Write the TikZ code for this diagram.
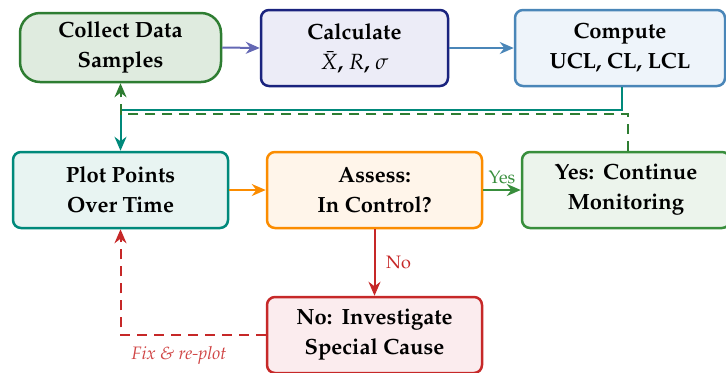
\documentclass[tikz,border=0pt]{standalone}
\usepackage[T1]{fontenc}
\usepackage{mathpazo}
\usetikzlibrary{arrows.meta,positioning}

\definecolor{cgreen}{HTML}{2E7D32}
\definecolor{cgreenfill}{HTML}{DFEBDF}
\definecolor{cnavy}{HTML}{1A237E}
\definecolor{cnavyfill}{HTML}{ECECF7}
\definecolor{cnavyarrow}{HTML}{6468B4}
\definecolor{csteel}{HTML}{4A86B8}
\definecolor{csteelfill}{HTML}{EEF4FA}
\definecolor{cteal}{HTML}{00897B}
\definecolor{ctealfill}{HTML}{E8F4F2}
\definecolor{corange}{HTML}{FB8C00}
\definecolor{corangefill}{HTML}{FFF5EA}
\definecolor{cmon}{HTML}{388E3C}
\definecolor{cmonfill}{HTML}{ECF4EC}
\definecolor{cred}{HTML}{C62828}
\definecolor{credfill}{HTML}{FBECEE}
\definecolor{credtext}{HTML}{D04545}

\tikzset{
  stagebox/.style={draw, line width=1.25pt, rounded corners=4pt, align=center,
    font=\bfseries\fontsize{11}{15}\selectfont, inner sep=2pt},
  flow/.style={line width=1pt, -{Stealth[length=7pt,width=6pt]}},
  lbl/.style={font=\fontsize{9}{11}\selectfont},
}

\begin{document}
\begin{tikzpicture}[x=0.5pt,y=-0.5pt]
  \useasboundingbox (0,0) rectangle (726,372);

  % process stages
  \node[stagebox, rounded corners=10pt, draw=cgreen, fill=cgreenfill,
        minimum width=100.5pt, minimum height=34.5pt] (collect) at (120.5,47.5)
        {Collect Data\\Samples};
  \node[stagebox, draw=cnavy, fill=cnavyfill,
        minimum width=93.5pt, minimum height=38pt] (calc) at (354.5,48)
        {Calculate\\$\bar{X}$, $R$, $\sigma$};
  \node[stagebox, draw=csteel, fill=csteelfill,
        minimum width=105pt, minimum height=38pt] (compute) at (620,48)
        {Compute\\UCL, CL, LCL};
  \node[stagebox, draw=cteal, fill=ctealfill,
        minimum width=107.5pt, minimum height=38pt] (plot) at (120.5,190)
        {Plot Points\\Over Time};
  \node[stagebox, draw=corange, fill=corangefill,
        minimum width=107.5pt, minimum height=38pt] (assess) at (374.5,190)
        {Assess:\\In Control?};
  \node[stagebox, draw=cmon, fill=cmonfill,
        minimum width=104pt, minimum height=38pt] (monitor) at (626,190)
        {Yes:\ \,Continue\\Monitoring};
  \node[stagebox, draw=cred, fill=credfill,
        minimum width=107.5pt, minimum height=38pt] (invest) at (374.5,335)
        {No:\ \,Investigate\\Special Cause};

  % bends of the loop-back paths
  \coordinate (tealturn) at (120.5,109.5);
  \coordinate (greenturn) at (120.5,113.5);
  \coordinate (redturn) at (120.5,335);

  % main flow
  \draw[flow, cnavyarrow] (collect.east) -- (calc.west);
  \draw[flow, csteel] (calc.east) -- (compute.west);
  \draw[flow, cteal] ([xshift=1pt]compute.south) |- (tealturn) -- (plot.north);
  \draw[flow, corange] (plot.east) -- (assess.west);
  \draw[flow, cmon] (assess.east) -- node[lbl, above, text=cmon, yshift=-1pt] {Yes} (monitor.west);
  \draw[flow, cred] (assess.south) -- node[lbl, right, text=cred, xshift=2pt] {No} (invest.north);

  % feedback loops
  \draw[flow, cgreen, dash pattern=on 5pt off 3.5pt] ([xshift=1pt]monitor.north) |- (greenturn) -- (collect.south);
  \draw[flow, cred, dash pattern=on 5pt off 3.5pt] (invest.west) -- (redturn) -- (plot.south);
  \node[lbl, text=credtext, font=\itshape\fontsize{9}{11}\selectfont] (fixlbl) at (179,355) {Fix \& re-plot};
\end{tikzpicture}
\end{document}
